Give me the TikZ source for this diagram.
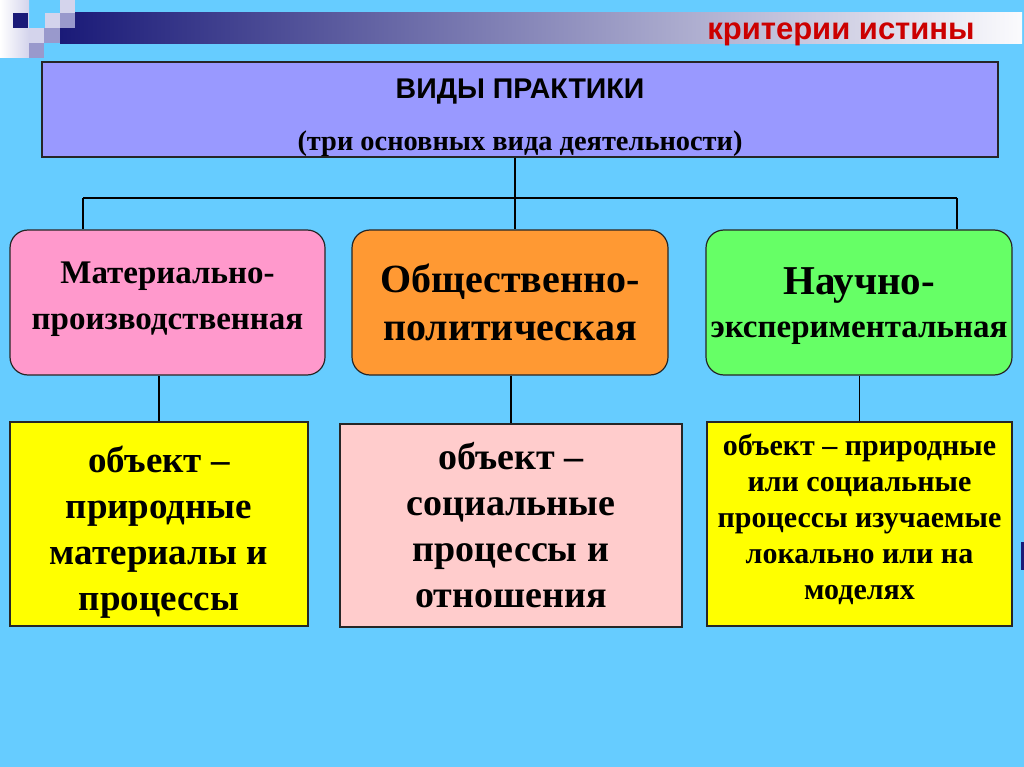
\documentclass[tikz,border=0pt]{standalone}
\usepackage{fontspec}
\setmainfont{Liberation Serif}
\newfontfamily\headfont{Liberation Sans}
\usetikzlibrary{positioning}

\definecolor{slidebg}{RGB}{102,204,255}
\definecolor{navy}{RGB}{26,26,120}
\definecolor{lav}{RGB}{212,212,236}
\definecolor{lavdark}{RGB}{153,153,204}
\definecolor{headred}{RGB}{204,0,0}
\definecolor{topfill}{RGB}{153,153,255}
\definecolor{matfill}{RGB}{255,153,204}
\definecolor{polfill}{RGB}{255,153,51}
\definecolor{scifill}{RGB}{102,255,102}
\definecolor{objyellow}{RGB}{255,255,0}
\definecolor{objpink}{RGB}{255,204,204}

\tikzset{
  kindblock/.style={draw=black!85, rectangle, rounded corners=18pt, line width=1.2pt, minimum height=145pt, align=center, inner sep=2pt},
  objblock/.style={draw=black!85, rectangle, line width=1.2pt, align=center, inner sep=2pt},
  treewire/.style={line width=1.1pt, black}
}

\begin{document}
\begin{tikzpicture}[x=1pt,y=-1pt]
    \useasboundingbox (0,0) rectangle (1024,767);
    \fill[slidebg] (0,0) rectangle (1024,767);
    % title bar
    \shade[left color=navy, right color=white!90!lav] (60,13) rectangle (1022,44);
    \shade[left color=white, right color=lav] (0,0) rectangle (29,58);
    \fill[navy] (13,13) rectangle (28,28);
    \fill[lav] (45,13) rectangle (60,28);
    \fill[lav] (60,0) rectangle (75,13);
    \fill[lavdark] (60,13) rectangle (75,28);
    \fill[lav] (29,28) rectangle (44,43);
    \fill[lavdark] (44,28) rectangle (60,43);
    \fill[lavdark] (29,43) rectangle (44,58);
    \fill[navy] (1021,542) rectangle (1024,570);
    \node[font=\headfont\bfseries\fontsize{31}{36}\selectfont, text=headred, anchor=base] (crit) at (841,40) {критерии истины};

    \node[draw=black!85, line width=1.2pt, fill=topfill, minimum width=956pt, minimum height=95pt, align=center,
          font=\fontsize{28}{52}\selectfont, text depth=0pt] (top) at (520,109.5)
          {{\headfont\bfseries\fontsize{28.5}{52}\selectfont\rule{0pt}{30.5pt}ВИДЫ ПРАКТИКИ}\\{\bfseries\fontsize{28.4}{52}\selectfont (три основных вида деятельности)}};

    \node[kindblock, fill=matfill, minimum width=315pt, font=\bfseries\fontsize{33}{46}\selectfont, text depth=13pt] (mat) at (167.5,302.5) {Материально-\\производственная};
    \node[kindblock, fill=polfill, minimum width=316pt, font=\bfseries\fontsize{40}{48}\selectfont] (pol) at (510,302.5) {Общественно-\\политическая};
    \node[kindblock, fill=scifill, minimum width=306pt, font=\bfseries\fontsize{33}{43}\selectfont, text depth=0pt] (sci) at (859,302.5) {{\fontsize{41}{43}\selectfont Научно-}\\экспериментальная};

    \node[objblock, fill=objyellow, minimum width=298pt, minimum height=204pt, font=\bfseries\fontsize{37}{46}\selectfont, text depth=0pt] (obj1) at (159,524) {\rule{0pt}{35pt}объект –\\природные\\материалы и\\процессы};
    \node[objblock, fill=objpink, minimum width=342pt, minimum height=203pt, font=\bfseries\fontsize{38}{46}\selectfont] (obj2) at (511,525.5) {объект –\\социальные\\процессы и\\отношения};
    \node[objblock, fill=objyellow, minimum width=305pt, minimum height=204pt, font=\bfseries\fontsize{30}{36}\selectfont, text depth=14pt] (obj3) at (859.5,524) {объект – природные\\или социальные\\процессы изучаемые\\локально или на\\моделях};

    \coordinate (busL) at (83,198);
    \coordinate (busM) at (515,198);
    \coordinate (busR) at (957,198);
    \draw[treewire] (busL) -- (busR);
    \draw[treewire] (busM |- top.south) -- (busM);
    \draw[treewire] (busL) -- (busL |- mat.north);
    \draw[treewire] (busM) -- (busM |- pol.north);
    \draw[treewire] (busR) -- (busR |- sci.north);
    \draw[treewire] (obj1.north) -- (obj1.north |- mat.south);
    \draw[treewire] (obj2.north) -- (obj2.north |- pol.south);
    \draw[treewire] (obj3.north) -- (obj3.north |- sci.south);
\end{tikzpicture}
\end{document}
